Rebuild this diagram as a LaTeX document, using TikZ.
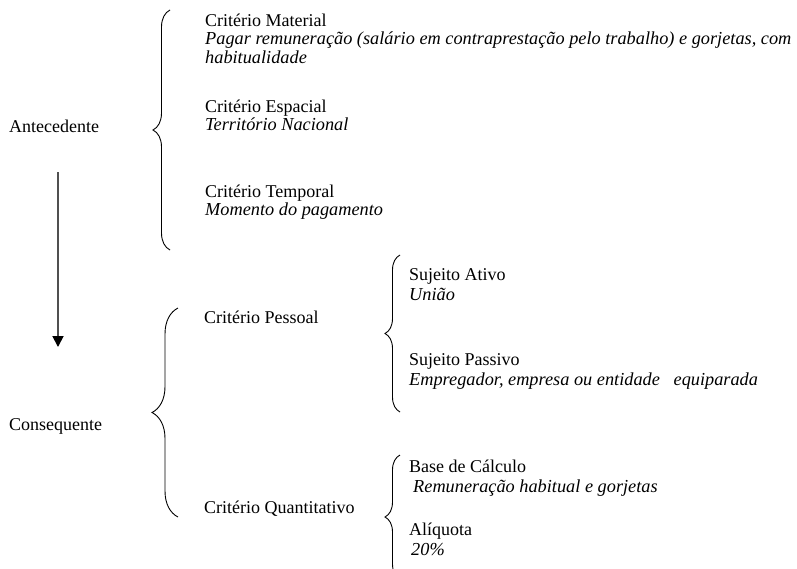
\documentclass[tikz,border=0pt]{standalone}
\usepackage{fontspec}
\setmainfont{Liberation Serif}
\usepackage{xcolor}
\definecolor{arrgray}{HTML}{505050}
\usepackage{tikz}
\usetikzlibrary{arrows.meta, decorations.pathreplacing}
\tikzset{
  ctext/.style ={anchor=base west, inner sep=0pt, align=left, font=\fontsize{18}{18.5}\selectfont},
  cdesc/.style ={ctext, font=\fontsize{18.3}{18.5}\selectfont\itshape},
  cbrace/.style={decorate, decoration={brace, amplitude=#1}, line width=0.9pt, color=black},
  carr/.style  ={-{Triangle[length=11pt, width=11pt, black]}, line width=1.8pt, color=arrgray},
}

\begin{document}
\begin{tikzpicture}[x=1pt, y=-1pt]
  \clip (0,0) rectangle (797,568);
  % antecedente
  \node[ctext] (ant) at (9,132) {Antecedente};
  \node[ctext] (mat) at (205,26) {Critério Material};
  \node[cdesc] (matd) at (205,63) {Pagar remuneração (salário em contraprestação pelo trabalho) e gorjetas, com\\habitualidade};
  \node[ctext] (esp) at (205,112) {Critério Espacial};
  \node[cdesc] (espd) at (205,130) {Território Nacional};
  \node[ctext] (tmp) at (205,197) {Critério Temporal};
  \node[cdesc] (tmpd) at (205,215) {Momento do pagamento};
  \draw[cbrace=17] (170,250) -- (170,10);
  % seta
  \coordinate (arrtop) at (58,172);
  \coordinate (arrend) at (58,347);
  \draw[carr] (arrtop) -- (arrend);
  % consequente
  \node[ctext] (cons) at (9,430) {Consequente};
  \node[ctext] (pes) at (204,323) {Critério Pessoal};
  \node[ctext] (qua) at (204,513) {Critério Quantitativo};
  \draw[cbrace=26] (178,517) -- (178,308);
  \node[ctext] (sat) at (409,280) {Sujeito Ativo};
  \node[cdesc] (satd) at (409,300) {União};
  \node[ctext] (spa) at (409,365) {Sujeito Passivo};
  \node[cdesc] (spad) at (409,385) {Empregador, empresa ou entidade\ \ \ equiparada};
  \draw[cbrace=15] (400,412) -- (400,255);
  \node[ctext] (bas) at (409,472) {Base de Cálculo};
  \node[cdesc] (basd) at (413,492) {Remuneração habitual e gorjetas};
  \node[ctext] (ali) at (409,535) {Alíquota};
  \node[cdesc] (alid) at (411,555) {20\%};
  \draw[cbrace=15] (400,579) -- (400,455);
\end{tikzpicture}
\end{document}
